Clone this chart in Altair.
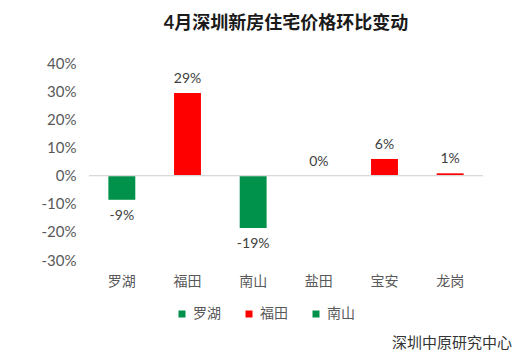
import altair as alt
import pandas as pd

districts = ["罗湖", "福田", "南山", "盐田", "宝安", "龙岗"]
changes = [-8.6, 29.3, -18.6, 0.0, 5.9, 0.8]
labels = ["-9%", "29%", "-19%", "0%", "6%", "1%"]
bar_colors = ["#00924B", "#FF0000", "#00924B", "#00924B", "#FF0000", "#FF0000"]
legend_items = ["罗湖", "福田", "南山"]
y_ticks = [-30, -20, -10, 0, 10, 20, 30, 40]
title_text = "4月深圳新房住宅价格环比变动"
source_text = "深圳中原研究中心"

df = pd.DataFrame({"区域": districts, "涨幅": changes, "标签": labels})

FONT = "Lato, Noto Sans CJK SC, sans-serif"

y_axis = alt.Axis(values=y_ticks, grid=False, domain=False, ticks=False,
                  labelOverlap=False, labelBound=False,
                  labelExpr="datum.value + '%'", labelPadding=13,
                  labelFontSize=15, labelColor="#595959", labelFont=FONT)

x = alt.X("区域:N", sort=districts, title=None,
          scale=alt.Scale(paddingInner=0.59, paddingOuter=0.295),
          axis=alt.Axis(domain=False, ticks=False, labelAngle=0, labelPadding=14,
                        labelFontSize=14, labelColor="#595959", labelFont=FONT))
y = alt.Y("涨幅:Q", title=None,
          scale=alt.Scale(domain=[-30, 40], nice=False), axis=y_axis)

base = alt.Chart(df)

bars = base.mark_bar().encode(
    x=x, y=y,
    color=alt.Color("区域:N", scale=alt.Scale(domain=districts, range=bar_colors),
                    legend=alt.Legend(values=legend_items, title=None, orient="none",
                                      legendX=86, legendY=244, direction="horizontal",
                                      symbolType="square", symbolSize=49,
                                      symbolStrokeWidth=0, labelFontSize=14,
                                      labelColor="#595959", labelFont=FONT,
                                      labelOffset=4, columnPadding=21)),
)

zero = alt.Chart(df).mark_rule(color="#D9D9D9", strokeWidth=1).encode(
    y=alt.Y(datum=0, axis=y_axis, title=None))

pos_text = base.transform_filter("datum['涨幅'] >= 0").mark_text(
    baseline="bottom", dy=-7, fontSize=14, color="#404040", font=FONT
).encode(x=x, y=y, text="标签:N")

neg_text = base.transform_filter("datum['涨幅'] < 0").mark_text(
    baseline="top", dy=9, fontSize=14, color="#404040", font=FONT
).encode(x=x, y=y, text="标签:N")

source = alt.Chart(pd.DataFrame({"t": [source_text]})).mark_text(
    align="right", baseline="middle", fontSize=15, color="#333333", font=FONT
).encode(x=alt.value(423), y=alt.value(280), text="t:N")

chart = alt.layer(bars, zero, pos_text, neg_text, source).properties(
    width=394, height=197,
    title=alt.TitleParams(title_text, fontSize=18, fontWeight="bold", color="#1A1A1A",
                          font=FONT, anchor="middle", offset=23),
    autosize=alt.AutoSizeParams(type="none"),
    padding={"left": 81, "top": 55, "right": 41, "bottom": 96},
).configure(background="white").configure_view(strokeWidth=0, stroke="transparent"
).configure_axis(labelOverlap=False)

chart.save("out.html", embed_options={"renderer": "svg", "actions": False})
